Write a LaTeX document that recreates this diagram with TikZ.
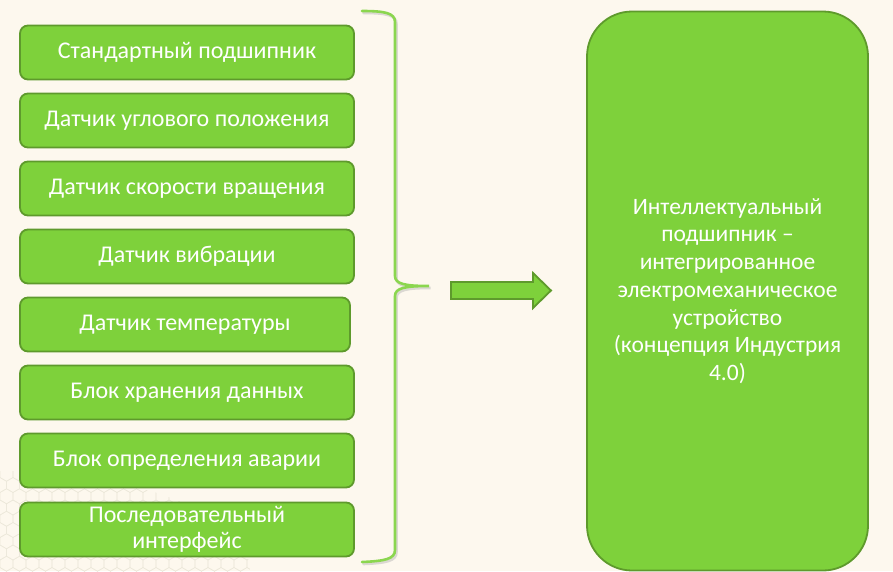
\documentclass[tikz,border=0pt]{standalone}
\usepackage{fontspec}
\setmainfont{Carlito}
\definecolor{bg}{HTML}{FDF8EE}
\definecolor{gfill}{HTML}{7ED13B}
\definecolor{gdraw}{HTML}{5E9A2C}
\definecolor{hexc}{HTML}{ECE8DA}
\tikzset{
  item/.style={draw=gdraw, line width=1.8pt, fill=gfill, rounded corners=8pt,
    minimum width=334pt, minimum height=54pt, inner sep=0pt, outer sep=0pt,
    text=white, align=center, font=\fontsize{24}{26}\selectfont},
  bigbox/.style={draw=gdraw, line width=1.8pt, fill=gfill, rounded corners=45pt,
    minimum width=281pt, minimum height=559pt, inner sep=0pt,
    text=white, align=center, font=\fontsize{23.5}{27.7}\selectfont},
  bracestyle/.style={draw=gfill!90!white, line width=2.6pt, line cap=round},
  braceshadow/.style={draw=black!30, line width=2.6pt, line cap=round, opacity=0.45},
  blockarrow/.style={draw=gdraw, line width=1.8pt, fill=gfill, line join=miter}
}
\begin{document}
\begin{tikzpicture}[x=1pt,y=-1pt]
\fill[bg] (0,0) rectangle (893,571);
\useasboundingbox (0,0) rectangle (893,571);
% faint hexagon texture bottom-left
\begin{scope}
\clip (0,571) ellipse (250pt and 100pt);
\foreach \j in {0,...,9}{
  \foreach \i in {0,...,20}{
    \pgfmathsetmacro{\cx}{\i*13+mod(\j,2)*6.5}
    \pgfmathsetmacro{\cy}{575-\j*11.25}
    \draw[hexc, line width=0.5pt] (\cx,\cy) +(30:7.5) -- +(90:7.5) -- +(150:7.5) -- +(210:7.5) -- +(270:7.5) -- +(330:7.5) -- cycle;
  }
}
\end{scope}
% left boxes
\node[item] (b1) at (187,52.5) {Стандартный подшипник};
\node[item] (b2) at (187,120.5) {Датчик углового положения};
\node[item] (b3) at (187,188.5) {Датчик скорости вращения};
\node[item] (b4) at (187,256.5) {Датчик вибрации};
\node[item, minimum width=330pt] (b5) at (185,324.5) {Датчик температуры};
\node[item] (b6) at (187,392.5) {Блок хранения данных};
\node[item] (b7) at (187,460.5) {Блок определения аварии};
\node[item] (b8) at (187,529.5) {Последовательный\\интерфейс};
% brace shadow and brace
\begin{scope}[shift={(1.5,2)}]
\draw[braceshadow] (362,11) .. controls (385,11) and (395,13) .. (395,22)
  -- (395,276) .. controls (395,284) and (405,286) .. (429,286)
  .. controls (405,286) and (395,288) .. (395,296)
  -- (395,550) .. controls (395,559) and (385,561) .. (362,562);
\end{scope}
\draw[bracestyle] (362,11) .. controls (385,11) and (395,13) .. (395,22)
  -- (395,276) .. controls (395,284) and (405,286) .. (429,286)
  .. controls (405,286) and (395,288) .. (395,296)
  -- (395,550) .. controls (395,559) and (385,561) .. (362,562);
% block arrow
\draw[blockarrow] (451,282) -- (533,282) -- (533,273) -- (551,290.5)
  -- (533,308) -- (533,299) -- (451,299) -- cycle;
% right box
\node[bigbox] (res) at (727.5,291) {Интеллектуальный\\подшипник –\\интегрированное\\электромеханическое\\устройство\\(концепция Индустрия\\4.0)};
\end{tikzpicture}
\end{document}
